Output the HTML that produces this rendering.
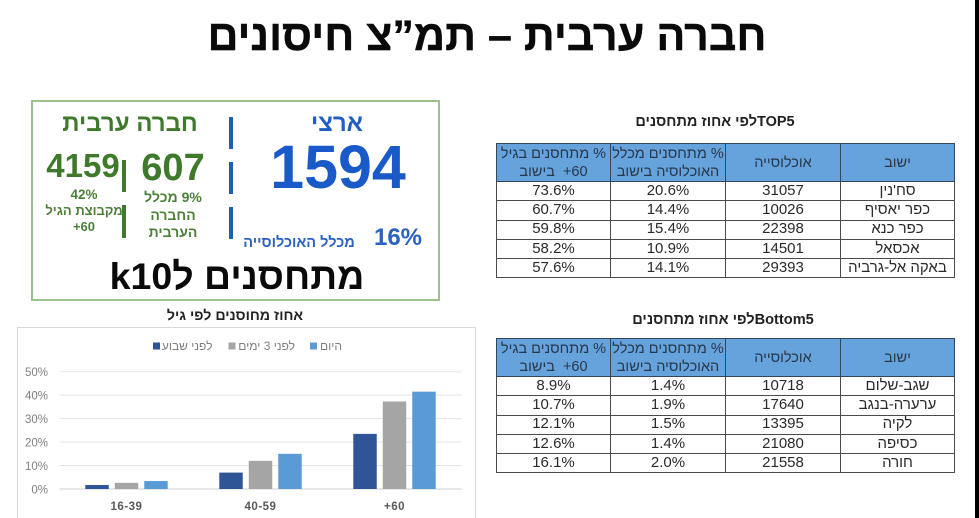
<!DOCTYPE html>
<html lang="he">
<head>
<meta charset="utf-8">
<title>חברה ערבית – תמ"צ חיסונים</title>
<style>
html,body{margin:0;padding:0;background:#fff;}
body{width:979px;height:518px;position:relative;overflow:hidden;font-family:"Liberation Sans","DejaVu Sans",sans-serif;}
.t{position:absolute;white-space:nowrap;text-align:center;transform:translateX(-50%);line-height:1;}
.bar{position:absolute;}
table{position:absolute;left:496px;width:458px;height:auto;border-collapse:collapse;table-layout:fixed;direction:rtl;color:#2a2a2a;}
td,th{border:1px solid #4a4a4a;padding:0;text-align:center;font-weight:normal;font-size:15px;line-height:16.5px;height:18.3px;overflow:hidden;white-space:nowrap;}
th{background:#66a2dc;height:37px;line-height:18px;color:#26384a;font-size:14.5px;border-color:#33475c;}
</style>
</head>
<body>
<div class="t" dir="rtl" style="left:487px;top:15px;font-size:43px;font-weight:bold;color:#0a0a0a;-webkit-text-stroke:0.4px #0a0a0a;">חברה ערבית – תמ”צ חיסונים</div>
<div style="position:absolute;left:975px;top:0;width:4px;height:518px;background:#000;"></div>

<div style="position:absolute;left:31px;top:100px;width:405px;height:197px;border:2px solid #9cc08e;"></div>
<div class="t" dir="rtl" style="left:337px;top:112px;font-size:24px;font-weight:bold;color:#1f5fc4;">ארצי</div>
<div class="t" style="left:338px;top:137px;font-size:61px;font-weight:bold;color:#1a5ac8;">1594</div>
<div class="t" style="left:398px;top:226px;font-size:24px;font-weight:bold;color:#2a62c0;">16%</div>
<div class="t" dir="rtl" style="left:299px;top:236px;font-size:14.5px;font-weight:bold;color:#2a62c0;">מכלל האוכלוסייה</div>
<div class="bar" style="left:229px;top:117px;width:4px;height:32px;background:#1f5fb0;"></div>
<div class="bar" style="left:229px;top:162px;width:4px;height:32px;background:#1f5fb0;"></div>
<div class="bar" style="left:229px;top:207px;width:4px;height:32px;background:#1f5fb0;"></div>
<div class="t" dir="rtl" style="left:130px;top:112px;font-size:24px;font-weight:bold;color:#3f7a2c;">חברה ערבית</div>
<div class="t" style="left:173px;top:149px;font-size:38px;font-weight:bold;color:#3f7a2c;">607</div>
<div class="t" style="left:83px;top:149px;font-size:33px;font-weight:bold;color:#3f7a2c;">4159</div>
<div class="bar" style="left:122px;top:160px;width:4px;height:32px;background:#3f7a2c;"></div>
<div class="bar" style="left:122px;top:205px;width:4px;height:33px;background:#3f7a2c;"></div>
<div class="t" dir="rtl" style="left:173px;top:189px;font-size:14px;line-height:17.5px;font-weight:bold;color:#4c8038;">9% מכלל<br>החברה<br>הערבית</div>
<div class="t" style="left:84px;top:188px;font-size:13.5px;font-weight:bold;color:#4c8038;">42%</div>
<div class="t" dir="rtl" style="left:84px;top:203px;font-size:13px;line-height:16px;font-weight:bold;color:#4c8038;">מקבוצת הגיל<br><bdi dir="ltr">+60</bdi></div>
<div class="t" dir="rtl" style="left:237px;top:258px;font-size:37.5px;font-weight:bold;color:#0a0a0a;">מתחסנים לk10</div>

<div class="t" dir="rtl" style="left:235px;top:309px;font-size:14.2px;font-weight:bold;color:#222;">אחוז מחוסנים לפי גיל</div>
<svg id="chart" width="979" height="518" style="position:absolute;left:0;top:0;font-family:'Liberation Sans','DejaVu Sans',sans-serif;"></svg>

<div class="t" dir="rtl" style="left:715px;top:115px;font-size:14.5px;font-weight:bold;color:#222;">TOP5לפי אחוז מתחסנים</div>
<table style="top:143px;">
<colgroup><col style="width:114px"><col style="width:115px"><col style="width:115px"><col style="width:114px"></colgroup>
<tr><th>ישוב</th><th>אוכלוסייה</th><th>% מתחסנים מכלל<br>האוכלוסיה בישוב</th><th>% מתחסנים בגיל<br><bdi dir="ltr">+60</bdi>&nbsp; בישוב</th></tr>
<tr><td>סח'נין</td><td>31057</td><td>20.6%</td><td>73.6%</td></tr>
<tr><td>כפר יאסיף</td><td>10026</td><td>14.4%</td><td>60.7%</td></tr>
<tr><td>כפר כנא</td><td>22398</td><td>15.4%</td><td>59.8%</td></tr>
<tr><td>אכסאל</td><td>14501</td><td>10.9%</td><td>58.2%</td></tr>
<tr><td>באקה אל-גרביה</td><td>29393</td><td>14.1%</td><td>57.6%</td></tr>
</table>

<div class="t" dir="rtl" style="left:723px;top:313px;font-size:14.6px;font-weight:bold;color:#222;">Bottom5לפי אחוז מתחסנים</div>
<table style="top:338px;">
<colgroup><col style="width:114px"><col style="width:115px"><col style="width:115px"><col style="width:114px"></colgroup>
<tr><th>ישוב</th><th>אוכלוסייה</th><th>% מתחסנים מכלל<br>האוכלוסיה בישוב</th><th>% מתחסנים בגיל<br><bdi dir="ltr">+60</bdi>&nbsp; בישוב</th></tr>
<tr><td>שגב-שלום</td><td>10718</td><td>1.4%</td><td>8.9%</td></tr>
<tr><td>ערערה-בנגב</td><td>17640</td><td>1.9%</td><td>10.7%</td></tr>
<tr><td>לקיה</td><td>13395</td><td>1.5%</td><td>12.1%</td></tr>
<tr><td>כסיפה</td><td>21080</td><td>1.4%</td><td>12.6%</td></tr>
<tr><td>חורה</td><td>21558</td><td>2.0%</td><td>16.1%</td></tr>
</table>

<script>
const categories = ['16-39', '40-59', '+60'];
const seriesNames = ['לפני שבוע', 'לפני 3 ימים', 'היום'];
const weekAgo = [1.7, 7, 23.5];
const threeDaysAgo = [2.6, 12, 37.3];
const today = [3.4, 15, 41.5];
const tickLabels = [0, 10, 20, 30, 40, 50];

const series = [weekAgo, threeDaysAgo, today];
const colors = ['#2f5597', '#a5a5a5', '#5b9bd5'];
const svg = document.getElementById('chart');
const NS = 'http://www.w3.org/2000/svg';
const plotLeft = 59.5, plotRight = 461.5, plotBottom = 489, plotTop = 371.7;
const maxValue = tickLabels[tickLabels.length - 1];
const y = v => plotBottom - (v / maxValue) * (plotBottom - plotTop);
const catWidth = (plotRight - plotLeft) / categories.length;
const catCenter = i => plotLeft + catWidth * (i + 0.5);
const barWidth = catWidth * 0.175, barStep = catWidth * 0.22;
const barX = (c, s) => catCenter(c) + (s - (series.length - 1) / 2) * barStep - barWidth / 2;
function make(tag, attrs, text) {
  const el = document.createElementNS(NS, tag);
  for (const k in attrs) el.setAttribute(k, attrs[k]);
  if (text !== undefined) el.textContent = text;
  svg.appendChild(el);
  return el;
}
const frame = make('rect', {x: 17.5, y: 327.5, width: 458, height: 200, fill: '#fff', stroke: '#d9d9d9'});


tickLabels.forEach(t => {
  const line = make('line', {x1: plotLeft, x2: plotRight, y1: y(t), y2: y(t), stroke: t === 0 ? '#cfcfcf' : '#e3e3e3', 'stroke-width': 1});
  
  
  const label = make('text', {x: 48, y: y(t) + 4.5, 'text-anchor': 'end', 'font-size': 11.5, fill: '#7f7f7f'}, t + '%');
  
  
});
series.forEach((vals, s) => {
  vals.forEach((v, c) => {
    const bar = make('rect', {x: barX(c, s), y: y(v), width: barWidth, height: plotBottom - y(v), fill: colors[s]});
    
    
  });
});
categories.forEach((name, c) => {
  const label = make('text', {x: catCenter(c), y: 510, 'text-anchor': 'middle', 'font-size': 11.5, 'font-weight': 'bold', fill: '#595959', 'letter-spacing': '0.5'}, name);
  
  
});
const legendSwatchX = [153, 228.5, 310];
const legendTextRight = [212.5, 295, 342];
seriesNames.forEach((name, s) => {
  const swatch = make('rect', {x: legendSwatchX[s], y: 342.5, width: 7, height: 7, fill: colors[s]});
  
  
  const text = make('text', {x: legendTextRight[s], y: 350, 'text-anchor': 'start', 'font-size': 12, fill: '#7f7f7f', direction: 'rtl'}, name);
  
  
});
</script>
</body>
</html>
